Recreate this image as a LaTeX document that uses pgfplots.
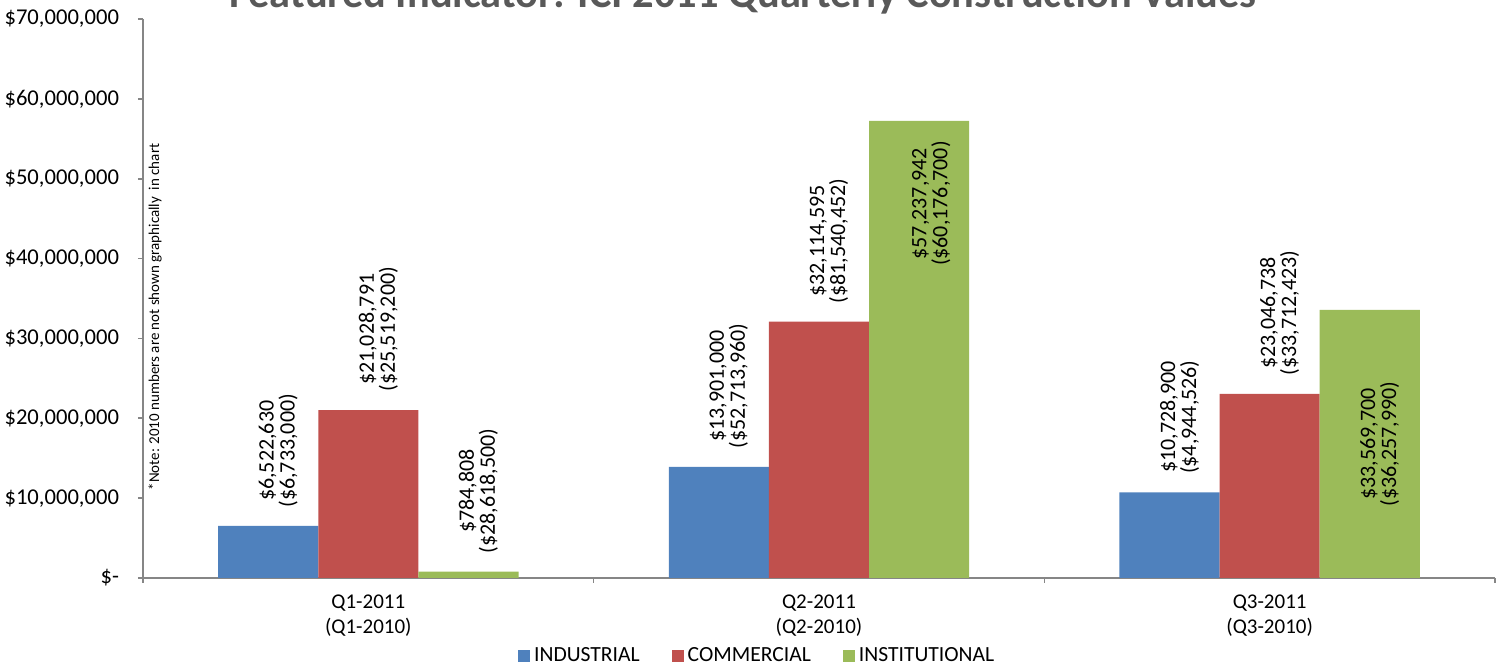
\documentclass[border=0pt]{standalone}
\usepackage{pgfplots}
\pgfplotsset{compat=1.18}
\usepackage{fontspec}
\setmainfont{Carlito}
\usetikzlibrary{calc}
\definecolor{ind}{HTML}{4F81BD}
\definecolor{com}{HTML}{C0504D}
\definecolor{ins}{HTML}{9BBB59}
\definecolor{axgray}{HTML}{868686}
\definecolor{titlegray}{HTML}{595959}

\begin{document}
\begin{tikzpicture}[lbl/.style={rotate=90, align=center, inner sep=1pt,
    font=\fontsize{11}{10.5}\selectfont}]
\begin{axis}[
  scale only axis, width=676pt, height=279.5pt,
  ybar=0pt, bar width=0.2222,
  xmin=-0.5, xmax=2.5, ymin=0, ymax=70000000,
  axis lines*=left,
  axis line style={axgray, line width=0.8pt},
  tick style={axgray, line width=0.8pt},
  tick align=outside, major tick length=2.5pt,
  xtick={-0.5,0.5,1.5,2.5}, xticklabels={},
  extra x ticks={0,1,2},
  extra x tick labels={{Q1-2011\\(Q1-2010)},{Q2-2011\\(Q2-2010)},{Q3-2011\\(Q3-2010)}},
  extra x tick style={major tick length=0pt,
    xticklabel style={align=center, yshift=-5pt, font=\fontsize{10.5}{12.5}\selectfont}},
  ytick={0,10000000,20000000,30000000,40000000,50000000,60000000,70000000},
  yticklabels={{\$-\hspace{6pt}},{\$10,000,000},{\$20,000,000},{\$30,000,000},{\$40,000,000},{\$50,000,000},{\$60,000,000},{\$70,000,000}},
  scaled y ticks=false,
  yticklabel style={xshift=-6pt, font=\fontsize{11.3}{13}\selectfont},
  clip=false,
  legend columns=3,
  legend style={at={(0.455,-0.1395)}, anchor=center, draw=none,
    font=\fontsize{10.8}{12}\selectfont,
    /tikz/every even column/.append style={column sep=14pt}},
  legend image code/.code={\fill[#1] (0pt,-3pt) rectangle (6pt,3pt);},
]
\addplot[fill=ind, draw=none] coordinates {(0,6522630) (1,13901000) (2,10728900)};
\addplot[fill=com, draw=none] coordinates {(0,21028791) (1,32114595) (2,23046738)};
\addplot[fill=ins, draw=none] coordinates {(0,784808) (1,57237942) (2,33569700)};
\legend{INDUSTRIAL, COMMERCIAL, INSTITUTIONAL}

% data labels: 2011 value, 2010 value in brackets
\node[lbl, anchor=west] at ($(axis cs:-0.2222,6522630)+(5pt,8pt)$) {\$6,522,630\\(\$6,733,000)};
\node[lbl, anchor=west] at ($(axis cs:0.7778,13901000)+(5pt,8pt)$) {\$13,901,000\\(\$52,713,960)};
\node[lbl, anchor=west] at ($(axis cs:1.7778,10728900)+(5pt,8pt)$) {\$10,728,900\\(\$4,944,526)};
\node[lbl, anchor=west] at ($(axis cs:0,21028791)+(5pt,8pt)$) {\$21,028,791\\(\$25,519,200)};
\node[lbl, anchor=west] at ($(axis cs:1,32114595)+(5pt,8pt)$) {\$32,114,595\\(\$81,540,452)};
\node[lbl, anchor=west] at ($(axis cs:2,23046738)+(5pt,8pt)$) {\$23,046,738\\(\$33,712,423)};
\node[lbl, anchor=west] at ($(axis cs:0.2222,784808)+(5pt,8pt)$) {\$784,808\\(\$28,618,500)};
\node[lbl, anchor=east] at ($(axis cs:1.2222,57237942)+(6pt,-9pt)$) {\$57,237,942\\(\$60,176,700)};
\node[lbl, anchor=center] at ($(axis cs:2.2222,16784850)+(5pt,0pt)$) {\$33,569,700\\(\$36,257,990)};

\node[rotate=90, font=\fontsize{7.5}{9}\selectfont] at (rel axis cs:0.009,0.467)
  {*Note: 2010 numbers are not shown graphically\ \ in chart};
\end{axis}
\node[anchor=base, font=\bfseries\fontsize{21.2}{24}\selectfont, text=titlegray]
  at ($(current axis.south west)+(301.5pt,285pt)$)
  {Featured Indicator: ICI 2011 Quarterly Construction Values\textsuperscript{\mdseries\color{black}\tiny 6}};
\pgfresetboundingbox
\path ($(current axis.south west)+(-71.5pt,-44.5pt)$) rectangle +(750.5pt,333.5pt);
\end{tikzpicture}
\end{document}
